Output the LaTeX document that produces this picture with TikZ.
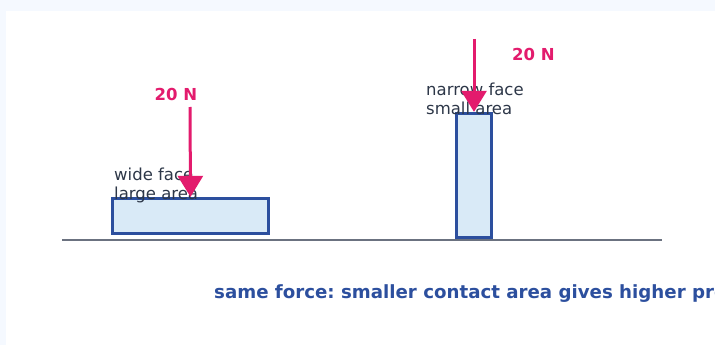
\documentclass[tikz,border=0pt]{standalone}
\usepackage{fontspec}
\setmainfont{DejaVu Sans}
\usetikzlibrary{arrows.meta}
\frenchspacing

\definecolor{pagebg}{HTML}{F5F9FF}
\definecolor{blockfill}{HTML}{D9EAF7}
\definecolor{blockline}{HTML}{2C4F9E}
\definecolor{forcepink}{HTML}{E31B6D}
\definecolor{labeltext}{HTML}{2D3748}
\definecolor{groundgray}{HTML}{6B7280}

\tikzset{
    block/.style = {draw = blockline, fill = blockfill, line width = 2.8pt,
        inner sep = 0pt},
    force/.style = {draw = forcepink, line width = 3pt,
        -{Triangle[length = 21pt, width = 25pt]}},
    forcelabel/.style = {text = forcepink, font = \fontsize{16.5}{19}\selectfont\bfseries,
        inner sep = 0pt},
    facelabel/.style = {text = labeltext, font = \fontsize{16.5}{19}\selectfont,
        align = left, inner sep = 0pt, anchor = base west},
}

\begin{document}
\begin{tikzpicture}[x = 1pt, y = -1pt]
        \useasboundingbox (0, 0) rectangle (715, 345);
        \fill[pagebg] (0, 0) rectangle (715, 345);
        \fill[white] (6, 11) rectangle (715, 345);
        % ground
        \coordinate (ground_left) at (62, 240);
        \coordinate (ground_right) at (662, 240);
        \draw[groundgray, line width = 2.2pt] (ground_left) -- (ground_right);
        % the two blocks
        \node[block, minimum width = 156.5, minimum height = 35.5]
            at (190.5, 216) (wide_block) {};
        \node[block, minimum width = 35.5, minimum height = 124.5]
            at (474, 175.5) (tall_block) {};
        % labels (base is the last line)
        \node[facelabel] at (114, 199) (wide_label) {wide face\\large area};
        \node[facelabel] at (426, 114) (narrow_label) {narrow face\\small area};
        % forces
        \coordinate (wide_push) at (190, 107);
        \coordinate (narrow_push) at (474, 39);
        \draw[force] (wide_push) -- (wide_block.north);
        \draw[force] (narrow_push) -- (tall_block.north);
        \node[forcelabel, anchor = base] at (176, 100) (wide_force) {20 N};
        \node[forcelabel, anchor = base] at (533.5, 61) (narrow_force) {20 N};
        % caption
        \node[anchor = base west, inner sep = 0pt, text = blockline,
            font = \fontsize{18.2}{21}\selectfont\bfseries]
            at (214, 298) (caption) {same force: smaller contact area gives higher pressure};
    \end{tikzpicture}
\end{document}
